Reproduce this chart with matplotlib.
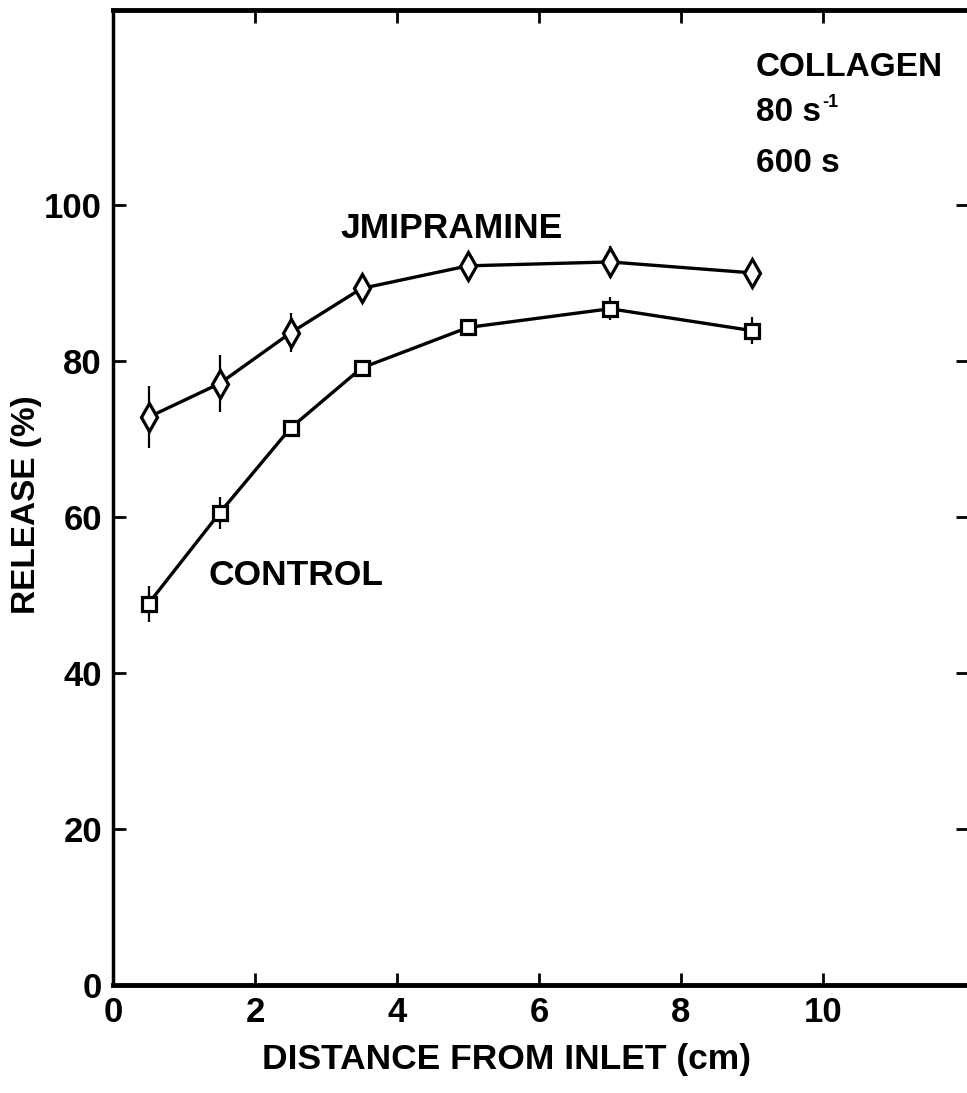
import matplotlib
matplotlib.use("Agg")
import matplotlib.pyplot as plt
from matplotlib import font_manager

# Release along the flow chamber, collagen surface, 80 s^-1, 600 s
distance = [0.5, 1.5, 2.5, 3.5, 5.0, 7.0, 9.0]
imipramine = [72.8, 77.1, 83.6, 89.3, 92.2, 92.7, 91.3]
imipramine_err = [4.0, 3.7, 2.5, 0.8, 1.0, 2.0, 0.8]
control = [48.9, 60.5, 71.4, 79.1, 84.3, 86.7, 83.9]
control_err = [2.3, 2.1, 0.8, 0.8, 0.8, 1.5, 1.7]

x_ticks = [0, 2, 4, 6, 8, 10]
y_ticks = [0, 20, 40, 60, 80, 100]

names = {f.name for f in font_manager.fontManager.ttflist}
family = "Liberation Sans Narrow" if "Liberation Sans Narrow" in names else "Liberation Sans"
plt.rcParams["font.family"] = [family, "DejaVu Sans"]
plt.rcParams["font.weight"] = "bold"

W, H = 967, 1093
fig = plt.figure(figsize=(W / 100, H / 100), dpi=100)
left_px, bottom_px, top_px, right_px = 113, 985, 10, 968
ax_w, ax_h = right_px - left_px, bottom_px - top_px
ax = fig.add_axes([left_px / W, 1 - bottom_px / H, ax_w / W, ax_h / H])

ax.set_xlim(0, ax_w / 71.0)
ax.set_ylim(0, ax_h / 7.8)

kw = dict(color="black", lw=2.4, mew=2.3, mfc="white", mec="black",
          elinewidth=1.6, capsize=0)
ax.errorbar(distance, imipramine, yerr=imipramine_err, marker="d", ms=14, **kw)
ax.errorbar(distance, control, yerr=control_err, marker="s", ms=10, **kw)

ax.set_xticks(x_ticks)
ax.set_yticks(y_ticks)
ax.tick_params(direction="in", length=9, width=2, labelsize=25, pad=8,
               top=True, right=True)
for lab in ax.get_xticklabels() + ax.get_yticklabels():
    lab.set_fontweight("bold")

ax.spines["left"].set_linewidth(2.5)
ax.spines["bottom"].set_linewidth(3.5)
ax.spines["top"].set_linewidth(3.5)
ax.spines["right"].set_visible(False)

ax.set_xlabel("DISTANCE FROM INLET (cm)", fontsize=25.5, fontweight="bold", va="center")
ax.xaxis.set_label_coords((506 - left_px) / ax_w, -(1059 - bottom_px) / ax_h)
ax.set_ylabel("RELEASE (%)", fontsize=24, fontweight="bold", va="center")
ax.yaxis.set_label_coords((27 - left_px) / ax_w, (bottom_px - 505) / ax_h)

tkw = dict(fontsize=25.5, fontweight="bold", va="center", ha="left")
ax.text(3.2, 97.0, "JMIPRAMINE", **tkw)
ax.text(1.34, 52.5, "CONTROL", **tkw)

ckw = dict(fontsize=24, fontweight="bold", va="center", ha="left")
ax.text(9.05, 117.6, "COLLAGEN", **ckw)
rate = ax.text(9.05, 111.8, "80 s", **ckw)
ax.annotate("-1", xy=(1, 1), xycoords=rate, xytext=(1.0, 2.5), textcoords="offset points",
            fontsize=13, fontweight="bold", ha="left", va="top")
ax.text(9.05, 105.3, "600 s", **ckw)

fig.savefig("out.png", dpi=100)
